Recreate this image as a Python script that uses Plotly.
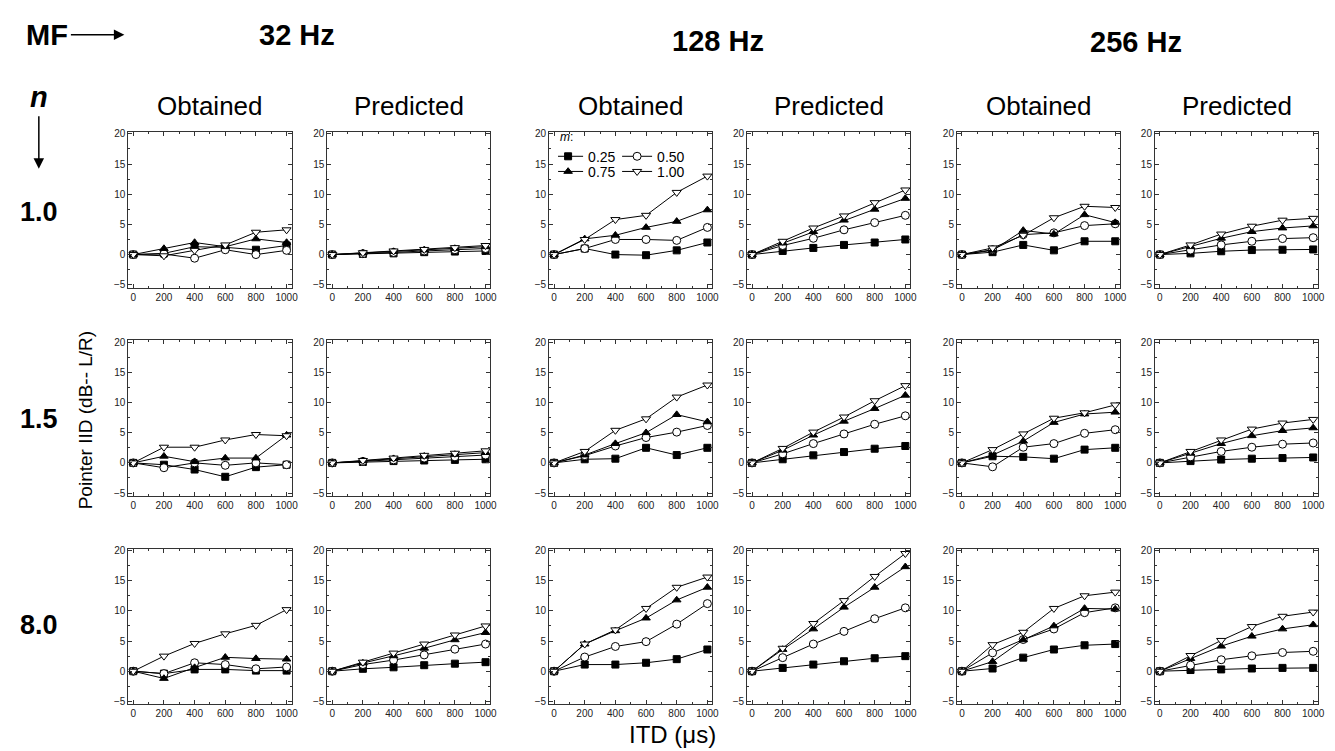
import plotly.graph_objects as go

# ---------------- data ----------------
ITD = [0, 200, 400, 600, 800, 1000]
M_LABELS = ["0.25", "0.50", "0.75", "1.00"]
MF_LABELS = ["32 Hz", "128 Hz", "256 Hz"]
N_LABELS = ["1.0", "1.5", "8.0"]
COND_LABELS = ["Obtained", "Predicted"]

# each panel: [m=0.25, m=0.50, m=0.75, m=1.00]
obt32_n10 = [[0, 0.2, 1.3, 1.2, 0.8, 1.5],
             [0, 0.1, -0.6, 0.8, 0.0, 0.7],
             [0, 1.0, 2.0, 1.3, 2.6, 2.0],
             [0, -0.2, 0.7, 1.6, 3.7, 4.1]]
pred32_n10 = [[0, 0.1, 0.2, 0.4, 0.5, 0.6],
              [0, 0.15, 0.35, 0.6, 0.8, 1.0],
              [0, 0.25, 0.5, 0.75, 1.0, 1.3],
              [0, 0.3, 0.6, 0.85, 1.15, 1.5]]
obt128_n10 = [[0, 1.0, 0.0, -0.1, 0.7, 2.0],
              [0, 1.0, 2.5, 2.5, 2.35, 4.5],
              [0, 2.6, 3.2, 4.5, 5.5, 7.4],
              [0, 2.5, 5.8, 6.5, 10.3, 13.0]]
pred128_n10 = [[0, 0.6, 1.1, 1.6, 2.0, 2.5],
               [0, 1.5, 2.7, 4.1, 5.3, 6.5],
               [0, 1.9, 3.8, 5.7, 7.5, 9.3],
               [0, 2.2, 4.4, 6.4, 8.6, 10.7]]
obt256_n10 = [[0, 0.4, 1.6, 0.7, 2.2, 2.2],
              [0, 0.8, 3.3, 3.6, 4.8, 5.1],
              [0, 0.7, 4.0, 3.4, 6.6, 5.3],
              [0, 1.1, 3.2, 6.1, 8.0, 7.8]]
pred256_n10 = [[0, 0.2, 0.55, 0.75, 0.8, 0.85],
               [0, 0.75, 1.6, 2.2, 2.65, 2.8],
               [0, 1.3, 2.7, 3.8, 4.4, 4.75],
               [0, 1.6, 3.4, 4.7, 5.7, 6.0]]

obt32_n15 = [[0, -0.3, -1.1, -2.3, -0.7, -0.3],
             [0, -0.8, 0.0, -0.4, 0.0, -0.3],
             [0, 1.1, 0.2, 0.8, 0.8, 4.6],
             [0, 2.6, 2.6, 3.8, 4.7, 4.5]]
pred32_n15 = [[0, 0.15, 0.3, 0.4, 0.5, 0.6],
              [0, 0.25, 0.5, 0.8, 1.0, 1.3],
              [0, 0.35, 0.7, 1.1, 1.4, 1.7],
              [0, 0.4, 0.8, 1.25, 1.6, 2.0]]
obt128_n15 = [[0, 0.6, 0.7, 2.5, 1.3, 2.5],
              [0, 1.2, 2.8, 4.2, 5.1, 6.2],
              [0, 1.3, 3.2, 5.0, 8.0, 6.8],
              [0, 1.9, 5.4, 7.3, 10.9, 12.9]]
pred128_n15 = [[0, 0.6, 1.25, 1.8, 2.35, 2.8],
               [0, 1.5, 3.2, 4.8, 6.4, 7.8],
               [0, 2.1, 4.6, 6.9, 9.0, 11.2],
               [0, 2.4, 5.1, 7.6, 10.3, 12.8]]
obt256_n15 = [[0, 1.1, 1.0, 0.7, 2.2, 2.5],
              [0, -0.65, 2.6, 3.2, 4.9, 5.5],
              [0, 1.3, 3.6, 6.7, 8.1, 8.4],
              [0, 2.2, 4.8, 7.4, 8.3, 9.6]]
pred256_n15 = [[0, 0.3, 0.55, 0.7, 0.8, 0.9],
               [0, 1.0, 1.9, 2.6, 3.1, 3.3],
               [0, 1.6, 3.2, 4.5, 5.35, 5.8],
               [0, 1.9, 3.8, 5.6, 6.6, 7.2]]

obt32_n80 = [[0, -0.4, 0.3, 0.3, 0.1, 0.1],
             [0, -0.4, 1.4, 1.1, 0.4, 0.7],
             [0, -1.2, 0.6, 2.3, 2.1, 2.0],
             [0, 2.5, 4.6, 6.2, 7.6, 10.2]]
pred32_n80 = [[0, 0.4, 0.65, 1.0, 1.25, 1.5],
              [0, 1.1, 1.85, 2.7, 3.65, 4.5],
              [0, 1.35, 2.55, 3.8, 5.2, 6.4],
              [0, 1.5, 3.0, 4.5, 6.0, 7.5]]
obt128_n80 = [[0, 1.1, 1.1, 1.4, 2.0, 3.6],
              [0, 2.35, 4.1, 4.9, 7.8, 11.2],
              [0, 4.5, 6.7, 8.8, 11.8, 13.9],
              [0, 4.5, 6.85, 10.4, 13.9, 15.6]]
pred128_n80 = [[0, 0.55, 1.1, 1.65, 2.15, 2.5],
               [0, 2.25, 4.5, 6.6, 8.7, 10.5],
               [0, 3.6, 7.0, 10.6, 13.9, 17.3],
               [0, 3.8, 7.9, 11.7, 15.7, 19.5]]
obt256_n80 = [[0, 0.45, 2.25, 3.6, 4.3, 4.5],
              [0, 3.05, 5.25, 7.0, 9.7, 10.5],
              [0, 1.6, 5.2, 7.5, 10.4, 10.3],
              [0, 4.4, 6.45, 10.4, 12.5, 13.1]]
pred256_n80 = [[0, 0.2, 0.3, 0.45, 0.55, 0.55],
               [0, 1.0, 1.9, 2.55, 3.1, 3.3],
               [0, 2.1, 4.15, 5.8, 7.0, 7.7],
               [0, 2.6, 5.1, 7.4, 9.1, 9.8]]

PANELS = [
    [obt32_n10, pred32_n10, obt128_n10, pred128_n10, obt256_n10, pred256_n10],
    [obt32_n15, pred32_n15, obt128_n15, pred128_n15, obt256_n15, pred256_n15],
    [obt32_n80, pred32_n80, obt128_n80, pred128_n80, obt256_n80, pred256_n80],
]

# ---------------- layout / style ----------------
W, H = 1335, 751
COL_PX = [(121, 285), (321, 485), (544, 708), (743, 907), (954, 1118), (1153, 1317)]
ROW_PX = [(121, 278), (331, 488), (541, 698)]
FONT = "Liberation Sans, Arial, Helvetica, sans-serif"

SYMBOLS = ["square", "circle", "triangle-up", "triangle-down"]
FILLS = ["black", "white", "black", "white"]
SIZES = [7, 8, 7.5, 8]


def px_x(p):
    return p / W


def px_y(p):
    return 1 - p / H


fig = go.Figure()
layout = {}
for r in range(3):
    for c in range(6):
        idx = r * 6 + c + 1
        xa = "xaxis" if idx == 1 else f"xaxis{idx}"
        ya = "yaxis" if idx == 1 else f"yaxis{idx}"
        xref = "x" if idx == 1 else f"x{idx}"
        yref = "y" if idx == 1 else f"y{idx}"
        x0, x1 = COL_PX[c]
        y0, y1 = ROW_PX[r]
        common = dict(showline=True, linecolor="#333", linewidth=1, mirror="ticks",
                      ticks="inside", ticklen=4, tickwidth=1, tickcolor="#333",
                      showgrid=False, zeroline=False,
                      tickfont=dict(size=10, color="#222", family=FONT))
        layout[xa] = dict(common, domain=[px_x(x0), px_x(x1)], anchor=yref,
                          range=[-32, 1032], tickvals=ITD,
                          minor=dict(tick0=0, dtick=100, ticks="inside", ticklen=2,
                                     tickcolor="#333", showgrid=False))
        layout[ya] = dict(common, domain=[px_y(y1), px_y(y0)], anchor=xref,
                          range=[-5.5, 20.3], tickvals=[-5, 0, 5, 10, 15, 20],
                          minor=dict(tick0=0, dtick=2.5, ticks="inside", ticklen=2,
                                     tickcolor="#333", showgrid=False))
        series = PANELS[r][c]
        for k in range(4):
            show = (r == 0 and c == 2)
            fig.add_trace(go.Scatter(
                x=ITD, y=series[k], mode="lines+markers", name=M_LABELS[k],
                xaxis=xref, yaxis=yref,
                line=dict(color="black", width=1),
                marker=dict(symbol=SYMBOLS[k], size=SIZES[k], color=FILLS[k],
                            line=dict(color="black", width=1)),
                showlegend=show,
                legend="legend" if k < 2 else "legend2",
            ))

annotations = []


def text(x, y, s, size, bold=False, italic=False, angle=0, xanchor="center"):
    if bold:
        s = f"<b>{s}</b>"
    if italic:
        s = f"<i>{s}</i>"
    annotations.append(dict(x=px_x(x), y=px_y(y), xref="paper", yref="paper",
                            text=s, showarrow=False, textangle=angle,
                            xanchor=xanchor, yanchor="middle",
                            font=dict(size=size, color="black", family=FONT)))


def arrow(xt, yt, xs, ys):
    annotations.append(dict(x=px_x(xt), y=px_y(yt), xref="paper", yref="paper",
                            ax=xs - xt, ay=ys - yt, text="", showarrow=True,
                            arrowhead=2, arrowsize=1.4, arrowwidth=1.5,
                            arrowcolor="black"))


text(16, 23, "MF", 29, bold=True, xanchor="left")
arrow(117, 23, 62, 23)
text(291, 23, MF_LABELS[0], 29, bold=True)
text(714, 29, MF_LABELS[1], 29, bold=True)
text(1134, 30, MF_LABELS[2], 29, bold=True)
text(31, 86, "n", 29, bold=True, italic=True)
arrow(31, 158, 31, 104)
for c in range(6):
    cx = (COL_PX[c][0] + COL_PX[c][1]) / 2
    text(cx, 95, COND_LABELS[c % 2], 26)
for r, yy in enumerate([202, 410, 618]):
    text(31, yy, N_LABELS[r], 27, bold=True)
text(78, 412, "Pointer IID (dB-- L/R)", 19, angle=-90)
text(668, 728, "ITD (\u03bcs)", 24)

leg_common = dict(orientation="h", xanchor="left", yanchor="top",
                  bgcolor="rgba(0,0,0,0)", borderwidth=0, itemwidth=30,
                  entrywidth=34, tracegroupgap=0, indentation=-10,
                  font=dict(size=14, color="black", family=FONT))
layout["legend"] = dict(leg_common, x=px_x(553), y=px_y(114),
                        title=dict(text="<i>m</i>:", side="top",
                                   font=dict(size=12, color="black", family=FONT)))
layout["legend2"] = dict(leg_common, x=px_x(553), y=px_y(145))

fig.update_layout(**layout)
fig.update_layout(width=W, height=H, margin=dict(l=0, r=0, t=0, b=0),
                  paper_bgcolor="white", plot_bgcolor="white",
                  annotations=annotations, showlegend=True,
                  font=dict(family=FONT))
fig.write_html("out.html")
